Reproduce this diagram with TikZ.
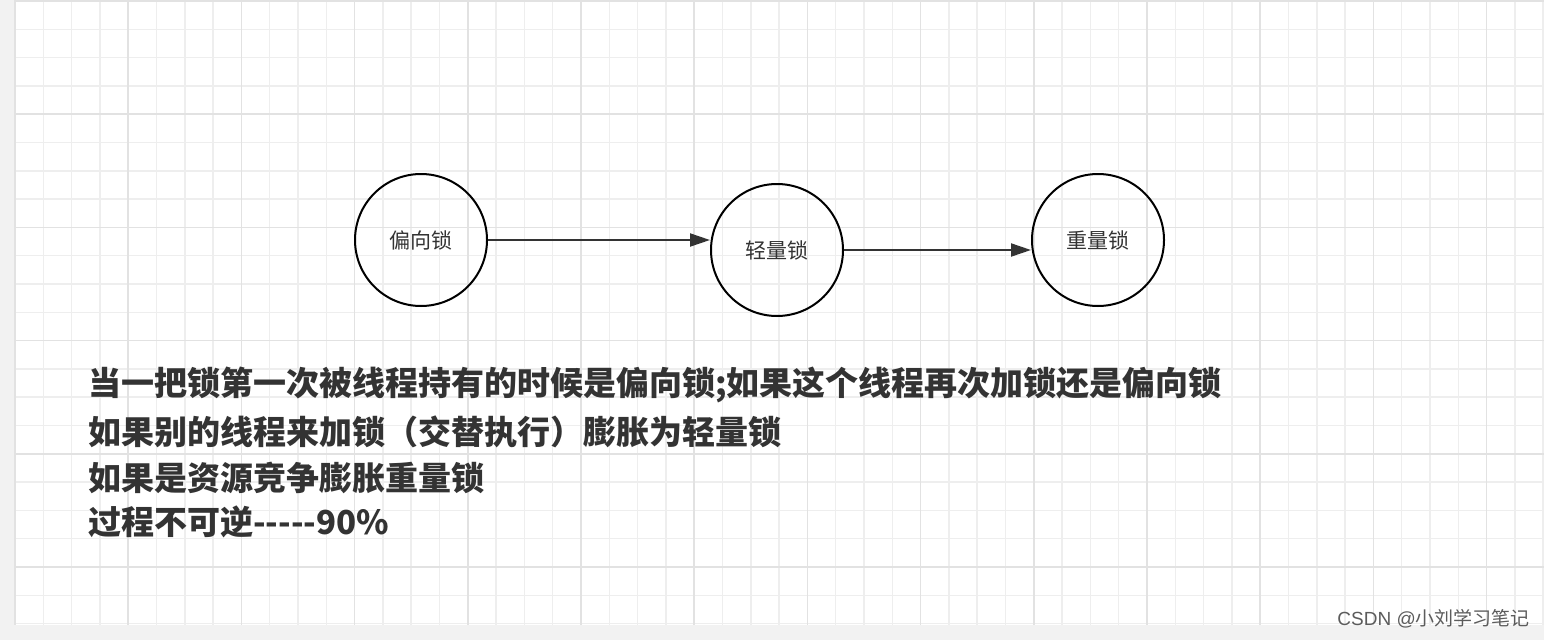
\documentclass[tikz,border=0pt]{standalone}
\usepackage{fontspec}
\setmainfont{Liberation Sans}
\newfontfamily\cjk{Noto Sans CJK SC}
\usetikzlibrary{arrows.meta}
\definecolor{minorg}{HTML}{EEEEEE}
\definecolor{majorg}{HTML}{E2E2E2}
\definecolor{bandg}{HTML}{F2F2F2}
\definecolor{ink}{HTML}{333333}
\begin{document}
\begin{tikzpicture}[x=1pt,y=-1pt,
  lock/.style={circle,draw=black,line width=2pt,minimum size=132pt,inner sep=0pt,font=\cjk\fontsize{21}{24}\selectfont,text=ink},
  conn/.style={line width=2pt,draw=ink,-{Triangle[length=20pt,width=13pt]}},
  note/.style={anchor=west,font=\cjk\bfseries\fontsize{33}{38}\selectfont,text=ink,inner sep=0pt}]
\useasboundingbox (0,0) rectangle (1544,640);
\fill[bandg] (0,0) rectangle (1544,640);
\fill[white] (15,0) rectangle (1544,625);
\foreach \i in {0,...,54} {\draw[minorg,line width=1.5pt] (15+28.3*\i,0) -- (15+28.3*\i,625);}
\foreach \j in {0,...,22} {\draw[minorg,line width=1.5pt] (15,1+28.3*\j) -- (1544,1+28.3*\j);}
\foreach \i in {0,...,13} {\draw[majorg,line width=1.5pt] (15+113.2*\i,0) -- (15+113.2*\i,625);}
\foreach \j in {0,...,5} {\draw[majorg,line width=1.5pt] (15,1+113.2*\j) -- (1544,1+113.2*\j);}
\node[lock] (a) at (421,240) {偏向锁};
\node[lock] (b) at (777,250) {轻量锁};
\node[lock] (c) at (1098,240) {重量锁};
\coordinate (b1) at (b.west|-a.east);
\draw[conn] (a.east) -- (b1);
\coordinate (c1) at (c.center|-b.east);
\draw[conn] (b.east) -- (c.west|-b.east);
\node[note] (t1) at (88,385) {当一把锁第一次被线程持有的时候是偏向锁;如果这个线程再次加锁还是偏向锁};
\node[note] (t2) at (88,432) {如果别的线程来加锁（交替执行）膨胀为轻量锁};
\node[note] (t3) at (88,478) {如果是资源竞争膨胀重量锁};
\node[note] (t4) at (88,522) {过程不可逆-----90\%};
\node[anchor=east,inner sep=0pt,text=ink!80,font=\fontsize{19}{22}\selectfont] (w) at (1530,619) {CSDN @{\cjk 小刘学习笔记}};
\end{tikzpicture}
\end{document}
